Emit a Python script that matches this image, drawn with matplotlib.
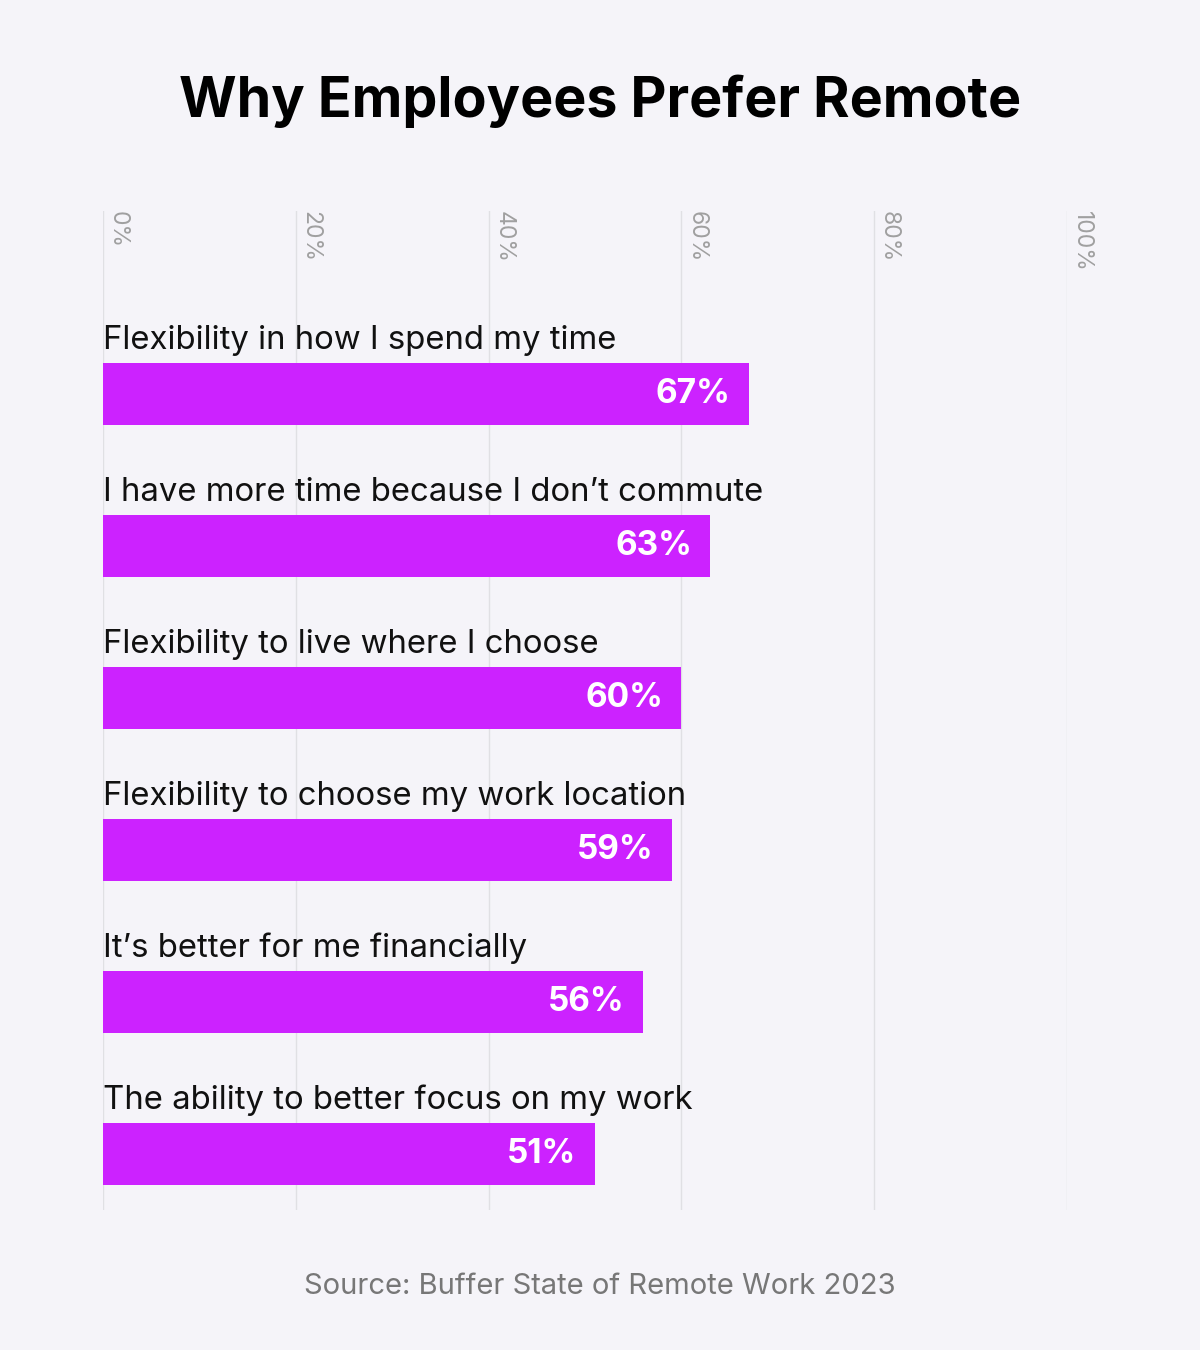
import numpy as np
import matplotlib.pyplot as plt

plt.rcParams['font.family'] = ['Inter', 'DejaVu Sans']

# data
reasons = ['Flexibility in how I spend my time',
           'I have more time because I don\u2019t commute',
           'Flexibility to live where I choose',
           'Flexibility to choose my work location',
           'It\u2019s better for me financially',
           'The ability to better focus on my work']
shares = [67, 63, 60, 59, 56, 51]
ticks = [0, 20, 40, 60, 80, 100]

bg = '#F5F4F9'
bar_col = '#CC22FF'

fig = plt.figure(figsize=(12, 13.5), dpi=100, facecolor=bg)
# axes spans gridline area: x 103..1067 px, y 211..1210 px
ax = fig.add_axes([103/1200, 1 - 1210/1350, (1067-103)/1200, (1210-211)/1350])
ax.set_facecolor(bg)

pos = np.arange(len(reasons))
h = 62/152
ax.barh(pos, shares, height=h, color=bar_col, zorder=2)

for i, (r, s) in enumerate(zip(reasons, shares)):
    ax.text(0, i - h/2 - 14/152, r, fontsize=23.7, color='#111111',
            va='baseline', ha='left', zorder=3)
    ax.text(s - 1.9, i, f'{s}%', fontsize=24, fontweight='bold', color='white',
            va='center', ha='right', zorder=3)

for t in ticks:
    ax.axvline(t, color='#E0E0E4', lw=1, zorder=1)
    ax.text(t + 0.4, -1.204, f'{t}%', rotation=270, fontsize=16.5, color='#A0A0A0',
            va='top', ha='left', zorder=3)

ax.set_xlim(0, 100)
ax.set_ylim(5.368, -1.204)
ax.axis('off')

fig.text(0.5, 1 - 101/1350, 'Why Employees Prefer Remote', fontsize=40, fontweight='bold',
         ha='center', va='center', color='black')
fig.text(0.5, 1 - 1286/1350, 'Source: Buffer State of Remote Work 2023', fontsize=21,
         ha='center', va='center', color='#777777')

fig.savefig('out.png', dpi=100, facecolor=bg)
